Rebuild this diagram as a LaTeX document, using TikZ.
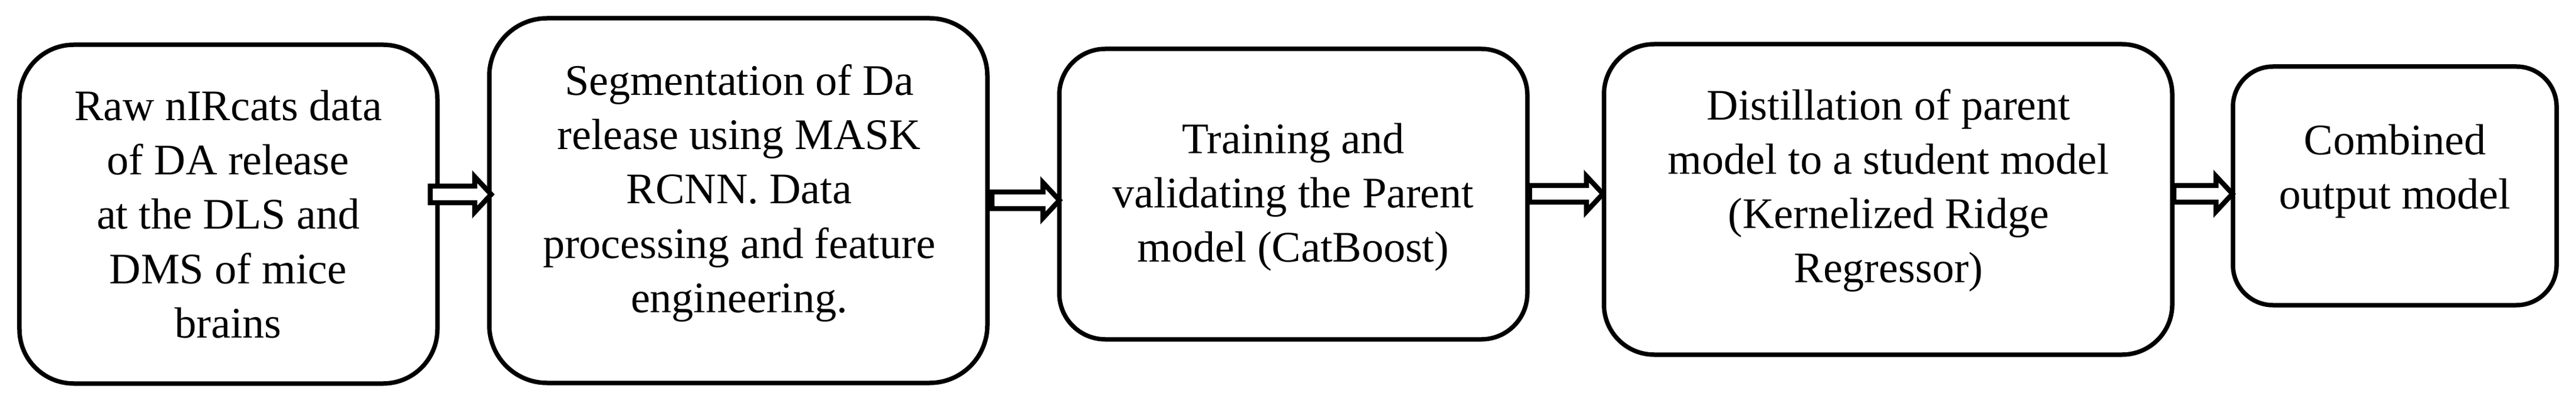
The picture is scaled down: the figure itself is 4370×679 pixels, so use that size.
\documentclass[tikz,border=0pt]{standalone}
\usepackage{fontspec}
\setmainfont{Liberation Serif}
\usetikzlibrary{calc}
\begin{document}
\begin{tikzpicture}[x=0.2pt,y=-0.2pt]
\tikzset{
  box/.style={draw=black, line width=1.5pt, fill=white, inner sep=0pt},
  txt/.style={align=center, inner sep=0pt, font=\fontsize{14.8pt}{18.4pt}\selectfont},
  blockarrow/.style={draw=black, line width=1.7pt, fill=white, line join=miter,
    to path={let \p1=(\tikztostart), \p2=(\tikztotarget) in
      ({\x1},{\y1+2.8pt}) -- ({\x2-5.6pt},{\y1+2.8pt}) -- ({\x2-5.6pt},{\y1+6pt}) --
      ({\x2},{\y1}) -- ({\x2-5.6pt},{\y1-6pt}) -- ({\x2-5.6pt},{\y1-2.8pt}) --
      ({\x1},{\y1-2.8pt}) -- cycle}}
}
\useasboundingbox (0,0) rectangle (4370,679);
\fill[white] (0,0) rectangle (4370,679);

% boxes
\node[box, minimum width=141.8pt, minimum height=115pt, rounded corners=18.4pt] (b1) at (387.5,363.5) {};
\node[box, minimum width=169pt, minimum height=123.8pt, rounded corners=19.6pt] (b2) at (1252.5,340.5) {};
\node[box, minimum width=158.8pt, minimum height=98.6pt, rounded corners=15.6pt] (b3) at (2194,329.5) {};
\node[box, minimum width=192.8pt, minimum height=105.4pt, rounded corners=17pt] (b4) at (3203,338.5) {};
\node[box, minimum width=109.8pt, minimum height=81pt, rounded corners=13.6pt] (b5) at (4062.5,315.5) {};

% texts
\node[txt] (t1) at (387,370.6) {\strut Raw nIRcats data\\of DA release\\at the DLS and\\DMS of mice\\brains\strut};
\node[txt] (t2) at (1254,327.6) {\strut Segmentation of Da\\release using MASK\\RCNN. Data\\processing and feature\\engineering.\strut};
\node[txt] (t3) at (2194,334) {\strut Training and\\validating the Parent\\model (CatBoost)\strut};
\node[txt] (t4) at (3204,322.7) {\strut Distillation of parent\\model to a student model\\(Kernelized Ridge\\Regressor)\strut};
\node[txt] (t5) at (4063,290) {\strut Combined\\output model\strut};

% arrows
\draw[blockarrow] ([shift={(-16,-33.5)}]b1.east) to ([shift={(7,-10.5)}]b2.west);
\draw[blockarrow] ([shift={(4,-0.5)}]b2.east) to ([shift={(4,10.5)}]b3.west);
\draw[blockarrow] ([shift={(0,-0.5)}]b3.east) to ([shift={(2,-9.5)}]b4.west);
\draw[blockarrow] ([shift={(-1,-9.5)}]b4.east) to ([shift={(3,13)}]b5.west);
\end{tikzpicture}
\end{document}
